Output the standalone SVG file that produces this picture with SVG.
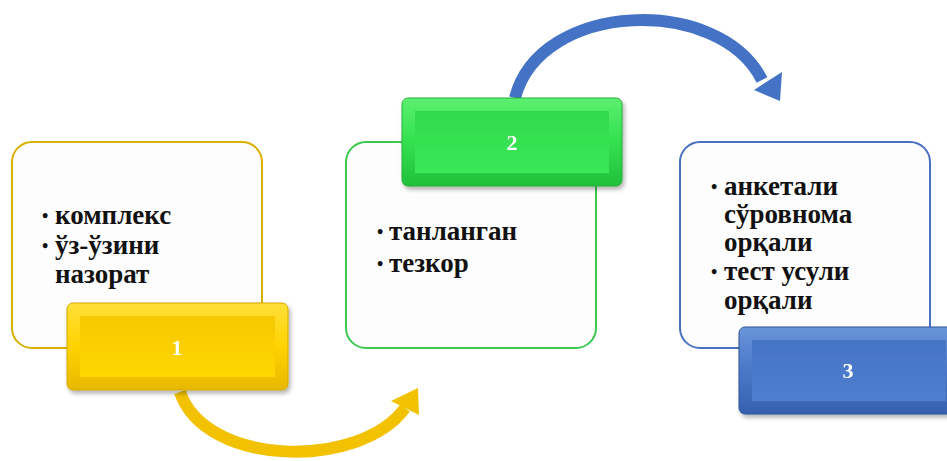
<svg xmlns="http://www.w3.org/2000/svg" width="947" height="461" viewBox="0 0 947 461">
<defs>
<style>
.box{fill:#fdfdfd;stroke-width:2}
.txt{font-family:"Liberation Serif","Times New Roman",serif;font-weight:bold;font-size:27px;fill:#111}
.bul{font-family:"Liberation Serif","Times New Roman",serif;font-weight:bold;font-size:18px;fill:#111}
.num{font-family:"Liberation Serif","Times New Roman",serif;font-weight:bold;font-size:22px;fill:#fff;text-anchor:middle}
</style>
<linearGradient id="gy" x1="0" y1="0" x2="0" y2="1"><stop offset="0" stop-color="#FFE03A"/><stop offset="0.5" stop-color="#FFD200"/><stop offset="1" stop-color="#E8B800"/></linearGradient>
<linearGradient id="gy2" x1="0" y1="0" x2="0" y2="1"><stop offset="0" stop-color="#F6C800"/><stop offset="1" stop-color="#FFD600"/></linearGradient>
<linearGradient id="gg" x1="0" y1="0" x2="0" y2="1"><stop offset="0" stop-color="#5CF070"/><stop offset="0.5" stop-color="#33E04F"/><stop offset="1" stop-color="#22C03C"/></linearGradient>
<linearGradient id="gg2" x1="0" y1="0" x2="0" y2="1"><stop offset="0" stop-color="#30DA4C"/><stop offset="1" stop-color="#3AE856"/></linearGradient>
<linearGradient id="gb" x1="0" y1="0" x2="0" y2="1"><stop offset="0" stop-color="#6A94DA"/><stop offset="0.5" stop-color="#4A78C8"/><stop offset="1" stop-color="#3660B0"/></linearGradient>
<linearGradient id="gb2" x1="0" y1="0" x2="0" y2="1"><stop offset="0" stop-color="#4574C6"/><stop offset="1" stop-color="#4F7ECE"/></linearGradient>
<filter id="sh" x="-10%" y="-10%" width="130%" height="130%"><feDropShadow dx="2" dy="3" stdDeviation="2" flood-color="#000" flood-opacity="0.3"/></filter>
</defs>

<g id="connectors">
<path d="M180,392 C205,467 360,470 405,408" fill="none" stroke="#F2C200" stroke-width="12"/>
<polygon points="391,401 418,388 419,415" fill="#F2C200"/>
<path d="M515,98 C540,0 720,-5 762,80" fill="none" stroke="#4472C4" stroke-width="12"/>
<polygon points="754,90 782,72 780,101" fill="#4472C4"/>
</g>

<g id="node1">
<rect class="box" x="12" y="142" width="250" height="206" rx="20" stroke="#D9B000"/>
<text class="bul" x="42" y="222">•</text>
<text class="txt" x="55" y="224">комплекс</text>
<text class="bul" x="42" y="252">•</text>
<text class="txt" x="55" y="254">ўз-ўзини</text>
<text class="txt" x="55" y="283">назорат</text>
</g>
<g id="bar1" filter="url(#sh)">
<rect x="67" y="303" width="221" height="87" rx="6" fill="url(#gy)" stroke="#D4A800" stroke-width="1"/>
<rect x="80" y="316" width="195" height="61" fill="url(#gy2)"/>
<text class="num" x="177" y="355">1</text>
</g>

<g id="node2">
<rect class="box" x="346" y="142" width="250" height="206" rx="20" stroke="#3CC850"/>
<text class="bul" x="377" y="238">•</text>
<text class="txt" x="389" y="240">танланган</text>
<text class="bul" x="377" y="270">•</text>
<text class="txt" x="389" y="272">тезкор</text>
</g>
<g id="bar2" filter="url(#sh)">
<rect x="402" y="98" width="220" height="88" rx="6" fill="url(#gg)" stroke="#22B03A" stroke-width="1"/>
<rect x="415" y="111" width="194" height="62" fill="url(#gg2)"/>
<text class="num" x="512" y="150">2</text>
</g>

<g id="node3">
<rect class="box" x="680" y="142" width="250" height="206" rx="20" stroke="#4A70C0"/>
<text class="bul" x="711" y="193">•</text>
<text class="txt" x="724" y="195">анкетали</text>
<text class="txt" x="724" y="223">сўровнома</text>
<text class="txt" x="724" y="251">орқали</text>
<text class="bul" x="711" y="278">•</text>
<text class="txt" x="724" y="280">тест усули</text>
<text class="txt" x="724" y="309">орқали</text>
</g>
<g id="bar3" filter="url(#sh)">
<rect x="739" y="327" width="220" height="87" rx="6" fill="url(#gb)" stroke="#2F5597" stroke-width="1"/>
<rect x="752" y="340" width="194" height="61" fill="url(#gb2)"/>
<text class="num" x="848" y="378">3</text>
</g>
</svg>
